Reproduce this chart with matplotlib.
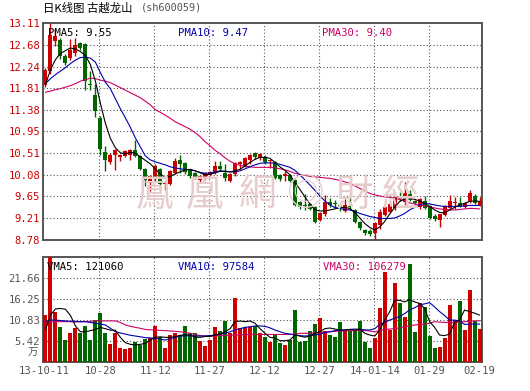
import matplotlib
matplotlib.use("Agg")
import matplotlib.pyplot as plt
import numpy as np

# ---------------- data ----------------
opens = [11.87, 12.15, 12.75, 12.78, 12.45, 12.41, 12.51, 12.71, 12.70, 11.89,
         11.68, 11.21, 10.54, 10.33, 10.48, 10.44, 10.46, 10.48, 10.58, 10.45,
         10.20, 9.92, 10.00, 10.19, 9.90, 9.90, 10.12, 10.37, 10.32, 10.18,
         10.12, 9.98, 10.02, 10.08, 10.14, 10.26, 10.12, 9.95, 10.09, 10.30,
         10.26, 10.38, 10.51, 10.41, 10.44, 10.35, 10.33, 10.08, 10.06, 10.08,
         9.97, 9.54, 9.47, 9.49, 9.43, 9.17, 9.30, 9.54, 9.51, 9.47,
         9.36, 9.46, 9.37, 9.14, 8.97, 8.95, 8.91, 9.07, 9.28, 9.34,
         9.41, 9.64, 9.54, 9.70, 9.56, 9.44, 9.56, 9.45, 9.25, 9.17,
         9.28, 9.41, 9.51, 9.51, 9.44, 9.54, 9.66, 9.48]
highs = [12.22, 13.11, 13.00, 12.82, 12.50, 12.80, 12.81, 12.74, 12.72, 12.15,
         11.90, 11.25, 10.65, 10.52, 10.59, 10.49, 10.57, 10.60, 10.78, 10.47,
         10.22, 10.08, 10.30, 10.22, 9.95, 10.17, 10.42, 10.48, 10.34, 10.20,
         10.14, 10.08, 10.14, 10.16, 10.36, 10.36, 10.30, 10.11, 10.34, 10.36,
         10.43, 10.49, 10.53, 10.51, 10.48, 10.40, 10.35, 10.10, 10.15, 10.10,
         9.99, 9.56, 9.69, 9.52, 9.45, 9.33, 9.68, 9.62, 9.58, 9.49,
         9.60, 9.68, 9.39, 9.16, 9.00, 8.99, 9.13, 9.40, 9.46, 9.52,
         9.66, 9.74, 9.94, 9.77, 9.58, 9.61, 9.66, 9.47, 9.30, 9.30,
         9.47, 9.68, 9.64, 9.64, 9.54, 9.78, 9.70, 9.64]
lows = [11.84, 12.10, 12.65, 12.40, 12.28, 12.38, 12.45, 12.58, 11.78, 11.78,
        11.24, 10.48, 10.15, 10.29, 10.18, 10.35, 10.44, 10.38, 10.43, 10.18,
        9.85, 9.76, 9.95, 9.88, 9.78, 9.88, 10.10, 10.12, 10.10, 10.01,
        9.99, 9.92, 9.98, 10.05, 10.10, 10.15, 9.95, 9.93, 10.05, 10.20,
        10.24, 10.30, 10.40, 10.38, 10.30, 10.22, 10.00, 9.96, 9.95, 9.94,
        9.46, 9.40, 9.38, 9.37, 9.12, 9.15, 9.26, 9.44, 9.42, 9.35,
        9.33, 9.38, 9.12, 8.98, 8.88, 8.85, 8.78, 9.00, 9.25, 9.32,
        9.38, 9.56, 9.48, 9.55, 9.48, 9.40, 9.40, 9.20, 9.16, 9.03,
        9.26, 9.38, 9.40, 9.43, 9.42, 9.52, 9.50, 9.46]
closes = [12.17, 12.88, 12.85, 12.45, 12.31, 12.57, 12.68, 12.61, 11.95, 11.87,
          11.35, 10.60, 10.38, 10.48, 10.58, 10.47, 10.55, 10.58, 10.45, 10.20,
          9.97, 10.05, 10.26, 9.90, 9.92, 10.15, 10.35, 10.30, 10.14, 10.06,
          10.02, 10.06, 10.12, 10.14, 10.26, 10.20, 10.02, 10.09, 10.32, 10.34,
          10.41, 10.47, 10.43, 10.49, 10.33, 10.38, 10.02, 9.99, 10.09, 9.96,
          9.48, 9.44, 9.45, 9.40, 9.14, 9.31, 9.54, 9.48, 9.49, 9.44,
          9.48, 9.43, 9.14, 9.02, 8.92, 8.89, 9.11, 9.34, 9.44, 9.50,
          9.64, 9.59, 9.72, 9.57, 9.51, 9.59, 9.41, 9.21, 9.20, 9.29,
          9.45, 9.56, 9.53, 9.45, 9.52, 9.71, 9.52, 9.55]

ma5 = [11.88, 12.18, 12.38, 12.50, 12.56, 12.61, 12.59, 12.54, 12.46, 12.28,
       11.95, 11.51, 11.11, 10.81, 10.62, 10.52, 10.50, 10.53, 10.51, 10.44,
       10.37, 10.30, 10.20, 10.10, 10.02, 10.05, 10.10, 10.14, 10.18, 10.19,
       10.16, 10.12, 10.08, 10.09, 10.12, 10.15, 10.15, 10.14, 10.16, 10.19,
       10.26, 10.33, 10.39, 10.43, 10.43, 10.41, 10.33, 10.24, 10.17, 10.08,
       9.93, 9.79, 9.64, 9.50, 9.38, 9.36, 9.36, 9.38, 9.40, 9.43,
       9.43, 9.41, 9.33, 9.22, 9.11, 9.03, 8.98, 9.04, 9.15, 9.30,
       9.43, 9.55, 9.60, 9.61, 9.59, 9.56, 9.51, 9.45, 9.38, 9.33,
       9.32, 9.38, 9.43, 9.48, 9.51, 9.55, 9.56, 9.55]
ma10 = [11.90, 12.00, 12.08, 12.15, 12.22, 12.30, 12.37, 12.42, 12.43, 12.41,
        12.33, 12.12, 11.93, 11.80, 11.60, 11.40, 11.22, 11.03, 10.82, 10.64,
        10.46, 10.38, 10.34, 10.31, 10.28, 10.24, 10.22, 10.20, 10.19, 10.18,
        10.16, 10.13, 10.11, 10.12, 10.14, 10.16, 10.15, 10.14, 10.14, 10.16,
        10.20, 10.24, 10.28, 10.31, 10.32, 10.32, 10.31, 10.29, 10.26, 10.23,
        10.17, 10.08, 9.98, 9.88, 9.77, 9.66, 9.56, 9.48, 9.43, 9.41,
        9.39, 9.38, 9.35, 9.31, 9.28, 9.25, 9.23, 9.21, 9.21, 9.21,
        9.22, 9.26, 9.31, 9.38, 9.43, 9.48, 9.51, 9.50, 9.48, 9.46,
        9.45, 9.45, 9.45, 9.45, 9.46, 9.47, 9.47, 9.47]
ma30 = [11.73, 11.75, 11.78, 11.80, 11.83, 11.86, 11.90, 11.95, 11.98, 12.01,
        12.00, 11.97, 11.95, 11.92, 11.87, 11.82, 11.77, 11.72, 11.67, 11.62,
        11.55, 11.48, 11.38, 11.33, 11.27, 11.21, 11.14, 11.09, 11.04, 10.99,
        10.92, 10.84, 10.74, 10.66, 10.57, 10.50, 10.42, 10.35, 10.30, 10.27,
        10.25, 10.24, 10.23, 10.23, 10.23, 10.23, 10.22, 10.20, 10.18, 10.15,
        10.11, 10.09, 10.07, 10.05, 10.04, 10.03, 10.02, 10.01, 9.99, 9.97,
        9.94, 9.91, 9.86, 9.81, 9.76, 9.71, 9.68, 9.66, 9.64, 9.63,
        9.61, 9.59, 9.56, 9.52, 9.50, 9.48, 9.46, 9.44, 9.42, 9.40,
        9.39, 9.38, 9.38, 9.39, 9.40, 9.41, 9.41, 9.40]

volume = [12.1, 30.0, 12.98, 9.1, 5.67, 7.57, 8.85, 7.57, 9.28, 5.67,
          10.83, 12.55, 7.57, 4.64, 7.57, 3.7, 3.4, 3.7, 5.2, 4.4,
          5.85, 6.28, 9.28, 6.53, 3.7, 6.96, 7.57, 6.96, 9.28, 7.57,
          7.4, 5.5, 4.13, 5.67, 9.1, 8.08, 10.57, 7.57, 16.4, 8.85,
          9.1, 8.94, 9.28, 7.57, 6.36, 5.24, 6.96, 4.99, 4.38, 5.67,
          13.4, 5.24, 5.5, 8.08, 9.8, 11.4, 8.08, 6.96, 6.36, 10.4,
          8.25, 7.99, 8.2, 10.5, 5.2, 3.7, 6.3, 14.0, 23.3, 8.2,
          20.5, 15.3, 11.7, 25.3, 7.8, 15.1, 14.3, 6.8, 3.7, 3.95,
          6.3, 14.7, 10.8, 15.8, 8.25, 18.6, 10.65, 8.5]
vma5 = [8.25, 12.1, 13.7, 13.8, 13.6, 12.0, 9.3, 7.8, 7.8, 8.08,
        8.4, 8.9, 8.6, 8.2, 8.2, 6.36, 5.0, 4.56, 4.4, 4.56,
        4.8, 5.67, 6.36, 6.5, 6.36, 6.36, 6.5, 6.9, 7.0, 7.0,
        6.4, 6.36, 6.6, 6.6, 6.96, 7.2, 7.8, 8.6, 10.4, 10.57,
        10.4, 10.57, 10.0, 8.6, 7.4, 6.36, 6.2, 5.5, 5.5, 5.67,
        6.96, 6.7, 6.4, 6.7, 7.4, 7.8, 8.6, 8.77, 8.5, 8.25,
        8.25, 8.4, 8.25, 8.5, 7.4, 6.96, 6.7, 8.25, 10.83, 12.98,
        15.9, 15.9, 15.5, 16.1, 15.5, 15.1, 13.8, 10.4, 8.94, 6.96,
        6.8, 7.2, 10.2, 10.83, 13.4, 13.0, 12.6, 12.1]
vma10 = [10.4, 10.8, 10.8, 10.7, 10.6, 10.5, 10.5, 10.4, 10.4, 10.2,
         10.0, 9.8, 9.55, 8.7, 7.8, 7.5, 7.2, 6.9, 6.7, 6.5,
         6.28, 6.2, 6.1, 5.9, 5.67, 6.0, 6.36, 6.7, 6.75, 6.75,
         6.7, 6.7, 6.7, 6.8, 6.96, 7.2, 7.4, 7.8, 8.25, 8.6,
         8.94, 9.1, 9.28, 9.3, 9.2, 8.8, 8.25, 7.8, 7.4, 7.2,
         6.96, 6.8, 6.7, 6.8, 6.96, 7.2, 7.57, 7.8, 8.08, 8.2,
         8.25, 8.4, 8.5, 8.4, 8.3, 8.25, 8.6, 9.7, 10.2, 10.8,
         11.3, 11.7, 12.5, 13.4, 14.0, 14.7, 15.0, 15.3, 14.2, 13.0,
         12.0, 10.8, 10.8, 10.6, 9.7, 9.75, 9.8, 9.76]
vma30 = [10.2, 10.3, 10.4, 10.4, 10.4, 10.4, 10.3, 10.4, 10.4, 10.5,
         10.6, 10.6, 10.6, 10.6, 10.6, 10.2, 9.55, 9.2, 8.94, 8.7,
         8.4, 8.3, 8.25, 8.15, 8.08, 8.0, 7.91, 7.8, 7.6, 7.4,
         7.1, 6.8, 6.7, 6.7, 6.75, 6.8, 6.85, 6.9, 6.95, 7.0,
         7.05, 7.1, 7.1, 7.1, 7.1, 7.1, 7.1, 7.1, 7.1, 7.1,
         7.2, 7.4, 7.4, 7.4, 7.5, 7.57, 7.7, 7.8, 7.9, 8.0,
         8.05, 8.08, 8.08, 8.1, 8.1, 8.0, 7.8, 8.1, 8.4, 8.5,
         8.6, 8.8, 9.1, 9.3, 9.55, 9.65, 9.8, 10.0, 10.4, 10.3,
         10.2, 10.2, 10.2, 10.3, 10.4, 10.5, 10.6, 10.63]

price_ticks = [8.78, 9.21, 9.65, 10.08, 10.51, 10.95, 11.38, 11.81, 12.24, 12.68, 13.11]
vol_ticks = [5.42, 10.83, 16.25, 21.66]
vol_top = 27.08
date_pos = [-0.3, 11, 22, 33, 44, 55, 66, 77, 87]
date_labels = ["13-10-11", "10-28", "11-12", "11-27", "12-12", "12-27", "14-01-14", "01-29", "02-19"]
grid_pos = [11, 22, 33, 44, 55, 66, 77]

legend_price = ["PMA5: 9.55", "PMA10: 9.47", "PMA30: 9.40"]
legend_vol = ["VMA5: 121060", "VMA10: 97584", "VMA30: 106279"]

# ---------------- styling ----------------
RED = "#cc0000"
GREEN = "#006600"
C5, C10, C30 = "#000000", "#0000aa", "#cc0066"
FRAME = "#555555"
MONO = "DejaVu Sans Mono"

W, H = 530, 391
fig = plt.figure(figsize=(W / 100, H / 100), dpi=100)
fig.patch.set_facecolor("white")
ax = fig.add_axes([43 / W, 1 - 240 / H, 439 / W, 217 / H])
axv = fig.add_axes([43 / W, 1 - 362 / H, 439 / W, 105 / H])

x = np.arange(len(closes))
o = np.array(opens); c = np.array(closes)
hi = np.array(highs); lo = np.array(lows)
up = c >= o
cols = np.where(up, RED, GREEN)

# watermark
wm_chars = ["鳳", "凰", "網", "◎", "財", "經"]
wm_x = [155, 205, 257, 305, 355, 400]
for ch, px in zip(wm_chars, wm_x):
    fig.text(px / W, 1 - 195 / H, ch, fontsize=27, color="#e8cccc",
             family=["Noto Sans CJK TC", "DejaVu Sans"], ha="center", va="center", zorder=0)
ax.patch.set_alpha(0)

# candles
ax.vlines(x, lo, hi, colors=cols, linewidth=1.0, zorder=3)
body = np.maximum(np.abs(c - o), 0.015)
ax.bar(x, body, bottom=np.minimum(o, c), width=0.8, color=cols, linewidth=0, zorder=4)
ax.plot(x, ma30, color=C30, lw=0.8, zorder=5)
ax.plot(x, ma10, color=C10, lw=0.8, zorder=5)
ax.plot(x, ma5, color=C5, lw=0.8, zorder=6)

ax.set_xlim(-0.5, len(x) - 0.5)
ax.set_ylim(price_ticks[0], price_ticks[-1])
ax.set_yticks(price_ticks)
ax.set_yticklabels([f"{t:.2f}" for t in price_ticks])
ax.set_xticks([])
ax.tick_params(axis="y", length=0, pad=2, labelcolor=RED, labelsize=7.6)
for lab in ax.get_yticklabels():
    lab.set_family(MONO)
for yv in price_ticks[1:-1]:
    ax.axhline(yv, color=FRAME, lw=0.8, ls=(0, (1, 2)), zorder=1)
for gx in grid_pos:
    ax.axvline(gx - 0.2, color=FRAME, lw=0.8, ls=(0, (1, 2)), zorder=1)

lx = [0.011, 0.3075, 0.6355]
for t, px, col in zip(legend_price, lx, [C5, C10, C30]):
    ax.text(px, 0.952, t, transform=ax.transAxes, color=col, family=MONO,
            fontsize=7.6, va="center", ha="left", zorder=7)

# volume
axv.bar(x, volume, width=0.8, color=cols, linewidth=0, zorder=3)
axv.plot(x, vma30, color=C30, lw=0.8, zorder=5)
axv.plot(x, vma10, color=C10, lw=0.8, zorder=5)
axv.plot(x, vma5, color=C5, lw=0.8, zorder=6)
axv.set_xlim(-0.5, len(x) - 0.5)
axv.set_ylim(0, vol_top)
axv.set_yticks(vol_ticks)
axv.set_yticklabels([f"{t:.2f}" for t in vol_ticks])
axv.tick_params(axis="y", length=0, pad=2, labelcolor="#555555", labelsize=7.6)
axv.set_xticks(date_pos)
axv.set_xticklabels(date_labels)
axv.tick_params(axis="x", length=0, pad=3, labelcolor="#555555", labelsize=7.6)
for lab in axv.get_yticklabels() + axv.get_xticklabels():
    lab.set_family(MONO)
for yv in vol_ticks:
    axv.axhline(yv, color=FRAME, lw=0.8, ls=(0, (1, 2)), zorder=1)
for gx in grid_pos:
    axv.axvline(gx - 0.2, color=FRAME, lw=0.8, ls=(0, (1, 2)), zorder=1)
axv.text(-0.012, 2.4, "万", transform=axv.get_yaxis_transform(), ha="right", va="center",
         color="#555555", fontsize=7.5, family=["Noto Sans CJK SC", "DejaVu Sans"])
lvx = [0.009, 0.3075, 0.637]
for t, px, col in zip(legend_vol, lvx, [C5, C10, C30]):
    axv.text(px, 0.905, t, transform=axv.transAxes, color=col, family=MONO,
             fontsize=7.6, va="center", ha="left", zorder=7)

for a in (ax, axv):
    for s in a.spines.values():
        s.set_color(FRAME)
        s.set_linewidth(1.4)

# title
fig.text(43 / W, 1 - 8 / H, "日K线图 古越龙山", fontsize=8.2, color="#000000",
         family=["Noto Sans CJK SC", "DejaVu Sans"], ha="left", va="center")
fig.text(141 / W, 1 - 8 / H, "(sh600059)", fontsize=7.4, color="#555555",
         family=MONO, ha="left", va="center")

fig.savefig("out.png", dpi=100)
